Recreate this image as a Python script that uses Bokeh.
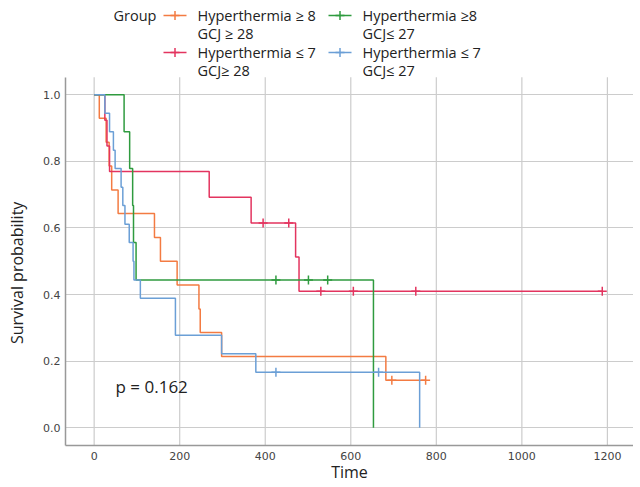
import numpy as np
from bokeh.plotting import figure
from bokeh.models import Range1d, FixedTicker, PrintfTickFormatter
from bokeh.core.properties import value
from bokeh.embed import file_html
from bokeh.resources import INLINE

# ---------------- data ----------------
legend_title = "Group"
group_line1 = ["Hyperthermia \u2265 8", "Hyperthermia \u2264 7", "Hyperthermia \u22658", "Hyperthermia \u2264 7"]
group_line2 = ["GCJ \u2265 28", "GCJ\u2265 28", "GCJ\u2264 27", "GCJ\u2264 27"]
group_colors = ["#F37B42", "#E3345F", "#2F9B3F", "#6B9FD6"]

# group 1: Hyperthermia >= 8, GCJ >= 28
orange_times = [12, 28, 35, 41, 56, 141, 155, 194, 245, 248, 298, 682]
orange_surv = [0.929, 0.857, 0.786, 0.714, 0.643, 0.571, 0.500, 0.429, 0.357, 0.286, 0.214, 0.143]
orange_censor = [696, 775]

# group 2: Hyperthermia <= 7, GCJ >= 28
red_times = [25, 30, 36, 269, 367, 471, 479]
red_surv = [0.923, 0.846, 0.769, 0.692, 0.615, 0.513, 0.410]
red_censor = [395, 455, 530, 606, 752, 1188]

# group 3: Hyperthermia >= 8, GCJ <= 27
green_times = [70, 83, 90, 92, 98, 653]
green_surv = [0.889, 0.778, 0.667, 0.556, 0.444, 0.0]
green_censor = [425, 501, 546]

# group 4: Hyperthermia <= 7, GCJ <= 27
blue_times = [25, 36, 45, 49, 63, 67, 72, 82, 91, 93, 108, 190, 298, 378, 761]
blue_surv = [0.944, 0.889, 0.833, 0.778, 0.722, 0.667, 0.611, 0.556, 0.500, 0.444, 0.389, 0.278, 0.222, 0.167, 0.0]
blue_censor = [425, 665]

x_ticks = [0, 200, 400, 600, 800, 1000, 1200]
y_ticks = [0.0, 0.2, 0.4, 0.6, 0.8, 1.0]
x_label = "Time"
y_label = "Survival probability"
p_value_text = "p = 0.162"
p_value_pos = (50, 0.125)

groups = [
    (orange_times, orange_surv, orange_censor),
    (red_times, red_surv, red_censor),
    (green_times, green_surv, green_censor),
    (blue_times, blue_surv, blue_censor),
]

TEXT_FONT = "Open Sans"
TEXT_COLOR = "#222222"

# ---------------- layout constants (pixels within the figure) ----------------
W, H = 633, 485
LEFT = 65                 # frame left
FRAME_BOTTOM = 446        # expected frame bottom (figure px from top)
PLOT_TOP = 77             # where y = Y1 sits (figure px from top)
X0, X1 = -67, 1261
Y0, Y1 = -0.053, 1.052
PXX = (W - LEFT) / (X1 - X0)
PXY = (FRAME_BOTTOM - PLOT_TOP) / (Y1 - Y0)
Y_TOP = Y0 + FRAME_BOTTOM / PXY
YLABEL_PAD = "\u00a0" * 24   # keeps the rotated title centred on the plotting area, not the legend


def dx(fig_x):
    return X0 + (fig_x - LEFT) / PXX


def dy(fig_y):
    return Y_TOP - fig_y / PXY


def km_path(times, surv, censor):
    end = max(max(times), max(censor) if censor else 0)
    xs = [0] + list(times)
    ys = [1.0] + list(surv)
    if end > xs[-1]:
        xs.append(end)
        ys.append(ys[-1])
    return xs, ys


def surv_at(times, surv, t):
    idx = int(np.searchsorted(np.asarray(times), t, side="right"))
    return 1.0 if idx == 0 else surv[idx - 1]


p = figure(width=W, height=H, x_range=Range1d(X0, X1), y_range=Range1d(Y0, Y_TOP),
           output_backend="svg", toolbar_location=None, min_border=0,
           min_border_left=LEFT, min_border_right=0, min_border_top=0)
p.outline_line_color = None
p.background_fill_color = "white"
p.border_fill_color = "white"

p.xaxis.ticker = FixedTicker(ticks=x_ticks)
p.yaxis.ticker = FixedTicker(ticks=y_ticks)
p.yaxis.formatter = PrintfTickFormatter(format="%.1f")
p.yaxis.bounds = (Y0, Y1)
p.xgrid.visible = False
p.ygrid.ticker = FixedTicker(ticks=y_ticks)
p.ygrid.grid_line_color = "#cccccc"
p.ygrid.grid_line_width = 1.2

for ax in (p.xaxis, p.yaxis):
    ax.axis_line_color = "#999999"
    ax.axis_line_width = 1.5
    ax.major_tick_out = 0
    ax.major_tick_in = 0
    ax.minor_tick_out = 0
    ax.minor_tick_in = 0
    ax.major_label_text_font = "DejaVu Sans"
    ax.major_label_text_font_size = "11px"
    ax.major_label_text_color = "#444444"
    ax.axis_label_text_font = TEXT_FONT
    ax.axis_label_text_font_size = "16px"
    ax.axis_label_text_font_style = "normal"
    ax.axis_label_text_color = TEXT_COLOR

p.xaxis.axis_label = x_label
p.yaxis.axis_label = y_label + YLABEL_PAD
p.xaxis.major_label_standoff = 6
p.xaxis.axis_label_standoff = -2
p.yaxis.major_label_standoff = 5
p.yaxis.axis_label_standoff = 12

# vertical grid lines limited to the plotting area
p.segment(x0=x_ticks, y0=[Y0] * len(x_ticks), x1=x_ticks, y1=[Y1] * len(x_ticks),
          line_color="#cccccc", line_width=1.2)

for (times, surv, censor), c in zip(groups, group_colors):
    xs, ys = km_path(times, surv, censor)
    p.step(xs, ys, mode="after", line_color=c, line_width=1.5)
    cy = [surv_at(times, surv, t) for t in censor]
    p.scatter(censor, cy, marker="cross", size=9, line_color=c, line_width=1.5)

p.text(x=[p_value_pos[0]], y=[p_value_pos[1]], text=[p_value_text], text_font=value(TEXT_FONT),
       text_font_size="17px", text_color=TEXT_COLOR, text_baseline="middle", text_align="left")

# ---------------- legend (drawn above the plotting area) ----------------
p.text(x=[dx(113)], y=[dy(15)], text=[legend_title], text_font=value(TEXT_FONT),
       text_font_size="14.5px", text_color=TEXT_COLOR, text_baseline="middle", text_align="left")

col_marker_x = [163, 328]
row_y = [15, 52]
line_gap = 18
for i in range(4):
    col = i // 2
    row = i % 2
    mx0 = col_marker_x[col]
    my = row_y[row]
    c = group_colors[i]
    p.segment(x0=[dx(mx0)], y0=[dy(my)], x1=[dx(mx0 + 23)], y1=[dy(my)], line_color=c, line_width=1.5)
    p.scatter(x=[dx(mx0 + 11.5)], y=[dy(my)], marker="cross", size=9, line_color=c, line_width=1.5)
    p.text(x=[dx(mx0 + 34)] * 2, y=[dy(my), dy(my + line_gap)], text=[group_line1[i], group_line2[i]],
           text_font=value(TEXT_FONT), text_font_size="14.5px", text_color=TEXT_COLOR,
           text_baseline="middle", text_align="left")

open("out.html", "w").write(file_html(p, INLINE))
